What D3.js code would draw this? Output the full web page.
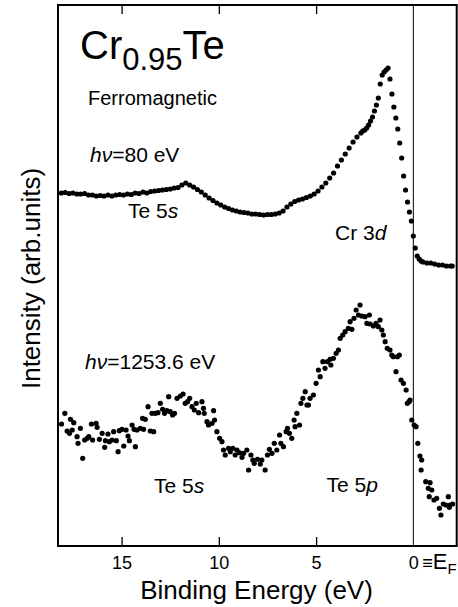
<!DOCTYPE html>
<html>
<head>
<meta charset="utf-8">
<script src="https://cdn.jsdelivr.net/npm/d3@7"></script>
<style>
  html, body { margin: 0; padding: 0; background: #fff; }
  svg { display: block; font-family: "Liberation Sans", Arial, Helvetica, sans-serif; }
</style>
</head>
<body>
<svg id="chart" width="458" height="607"></svg>
<script>
// ---- data (binding energy in eV, intensity in arbitrary units) ----
const xTicks = [15, 10, 5, 0];
const xTickLabels = ["15", "10", "5", "0"];

// hv = 80 eV spectrum
const spectrum80eV = [
  [18.1,35.3],[17.9,35.35],[17.7,35.25],[17.5,35.3],[17.3,35.2],[17.1,35.2],[16.9,35.25],[16.7,35.1],
  [16.5,35.1],[16.3,35.0],[16.1,35.05],[15.9,35.0],[15.7,35.1],[15.5,35.0],[15.3,35.1],[15.1,35.15],
  [14.9,35.1],[14.7,35.2],[14.5,35.15],[14.3,35.3],[14.1,35.25],[13.9,35.4],[13.7,35.3],[13.5,35.45],
  [13.3,35.5],[13.1,35.55],[12.9,35.6],[12.7,35.65],[12.5,35.7],[12.3,35.8],[12.1,35.85],[11.9,36.1],
  [11.7,36.3],[11.5,36.1],[11.3,35.9],[11.1,35.65],[10.9,35.4],[10.7,35.1],[10.5,34.8],[10.3,34.55],
  [10.1,34.3],[9.9,34.1],[9.7,33.9],[9.5,33.75],[9.3,33.6],[9.1,33.5],[8.9,33.4],[8.7,33.35],
  [8.5,33.3],[8.3,33.2],[8.1,33.2],[7.9,33.15],[7.7,33.1],[7.5,33.15],[7.3,33.15],[7.1,33.2],
  [6.9,33.3],[6.7,33.5],[6.5,33.9],[6.3,34.2],[6.1,34.45],[5.9,34.6],[5.7,34.7],[5.5,34.85],
  [5.3,35.0],[5.1,35.2],[4.9,35.5],[4.7,35.9],[4.5,36.3],[4.3,36.8],[4.1,37.3],[3.9,38.0],
  [3.7,38.6],[3.5,39.2],[3.3,39.8],[3.1,40.4],[2.9,40.9],[2.7,41.3],[2.6,41.5],[2.5,41.6],
  [2.4,41.8],[2.3,42.1],[2.2,42.5],[2.1,42.9],[2.0,43.5],[1.9,44.1],[1.8,44.8],[1.7,46.2],
  [1.6,47.1],[1.5,47.4],[1.4,47.6],[1.3,47.8],[1.2,46.7],[1.1,45.2],[1.0,43.9],[0.9,42.8],
  [0.8,41.7],[0.7,40.3],[0.6,38.8],[0.5,37.0],[0.4,35.6],[0.3,34.4],[0.2,33.4],[0.1,32.5],
  [0.0,31.0],[-0.1,29.8],[-0.2,29.0],[-0.3,28.7],[-0.4,28.5],[-0.5,28.4],[-0.7,28.3],[-0.9,28.3],
  [-1.1,28.2],[-1.3,28.1],[-1.5,28.1],[-1.7,28.0],[-1.9,28.0],[-2.0,28.0]
];

// hv = 1253.6 eV spectrum
const spectrum1253eV = [
  [18.09,12.2],[17.92,13.27],[17.80,11.5],[17.68,11.27],[17.63,12.67],[17.54,11.6],[17.46,12.33],[17.29,10.93],
  [17.24,10.27],[17.12,11.77],[17.00,8.77],[16.90,10.6],[16.77,10.77],[16.69,10.93],[16.55,12.2],[16.49,10.6],
  [16.31,12.27],[16.26,11.87],[16.14,10.67],[16.00,11.27],[15.87,9.87],[15.83,10.53],[15.70,11.2],[15.63,10.43],
  [15.49,10.6],[15.41,11.43],[15.27,10.53],[15.18,9.43],[15.12,11.53],[14.98,11.67],[14.89,10.0],[14.77,11.6],
  [14.67,11.0],[14.60,10.53],[14.46,12.1],[14.36,11.67],[14.29,9.93],[14.21,11.6],[14.04,11.77],[13.92,12.77],
  [13.87,11.67],[13.78,12.67],[13.64,13.93],[13.52,11.5],[13.44,13.27],[13.35,11.43],[13.27,13.27],[13.13,13.33],
  [13.01,14.27],[12.89,13.67],[12.79,13.27],[12.67,13.53],[12.58,14.93],[12.50,13.43],[12.38,13.1],[12.28,13.27],
  [12.15,14.77],[11.98,15.0],[11.84,15.2],[11.73,14.27],[11.61,14.43],[11.50,14.77],[11.38,13.93],[11.26,13.6],
  [11.16,14.27],[11.04,13.33],[10.87,14.43],[10.79,13.77],[10.75,13.27],[10.61,12.43],[10.53,12.1],[10.35,12.27],
  [10.27,13.53],[10.22,12.6],[10.10,11.43],[9.96,10.77],[9.84,10.43],[9.76,9.6],[9.67,9.1],[9.50,9.77],
  [9.41,9.43],[9.28,9.77],[9.16,9.1],[9.07,9.6],[8.94,9.33],[8.81,8.87],[8.73,9.27],[8.56,9.6],
  [8.47,7.6],[8.35,9.1],[8.25,8.6],[8.18,8.27],[8.01,8.67],[7.87,8.2],[7.79,8.6],[7.62,7.6],
  [7.50,9.1],[7.40,9.67],[7.27,9.27],[7.15,10.27],[7.02,9.6],[6.88,11.1],[6.81,10.27],[6.68,9.93],
  [6.54,11.43],[6.47,11.77],[6.37,11.27],[6.25,10.77],[6.13,12.6],[6.08,11.93],[5.99,13.27],[5.85,12.1],
  [5.78,14.27],[5.68,14.77],[5.56,15.43],[5.47,14.1],[5.39,14.1],[5.31,14.77],[5.14,15.1],[5.00,16.27],
  [4.88,17.6],[4.79,16.93],[4.65,18.43],[4.54,17.77],[4.42,18.43],[4.28,18.67],[4.24,18.1],[4.11,18.77],
  [3.97,19.27],[3.85,19.6],[3.76,20.77],[3.63,21.1],[3.51,21.43],[3.34,21.77],[3.25,22.43],[3.16,21.67],
  [3.05,22.77],[2.94,23.6],[2.82,23.1],[2.74,24.1],[2.65,23.0],[2.48,22.93],[2.39,22.27],[2.26,23.1],
  [2.22,22.2],[2.05,22.0],[1.92,22.27],[1.80,21.93],[1.71,22.6],[1.62,21.6],[1.54,21.1],[1.45,20.43],
  [1.34,19.77],[1.20,19.6],[1.11,19.1],[1.03,18.93],[0.89,17.43],[0.82,18.93],[0.72,19.1],[0.63,16.6],
  [0.51,16.27],[0.37,15.6],[0.31,14.27],[0.22,14.43],[0.17,14.6],[0.08,12.6],[-0.04,12.1],[-0.14,11.93],
  [-0.23,10.27],[-0.34,9.0],[-0.43,8.6],[-0.40,7.6],[-0.64,6.43],[-0.77,5.77],[-0.86,6.33],[-0.95,5.6],
  [-0.82,4.93],[-1.06,4.6],[-1.20,4.77],[-1.34,3.77],[-1.42,3.1],[-1.54,4.2],[-1.68,4.1],[-1.80,4.93],
  [-1.88,4.1],[-2.02,4.2],[-1.85,3.87]
];

// ---- layout ----
const plot = { left: 58, right: 456.7, top: 5, bottom: 546 };
const FONT = '"Liberation Sans", Arial, Helvetica, sans-serif';

const svg = d3.select("#chart");

const x = d3.scaleLinear().domain([18.27, -2.23]).range([plot.left, plot.right]);
const y = d3.scaleLinear().domain([0, 54]).range([plot.bottom, plot.top + 1]);

svg.append("defs").append("clipPath").attr("id", "clip")
  .append("rect").attr("x", plot.left).attr("y", plot.top)
  .attr("width", plot.right - plot.left).attr("height", plot.bottom - plot.top);

// Fermi level line
svg.append("line")
  .attr("x1", x(0)).attr("x2", x(0))
  .attr("y1", plot.top).attr("y2", plot.bottom)
  .attr("stroke", "#000").attr("stroke-width", 1);

// data points
const gData = svg.append("g").attr("clip-path", "url(#clip)");
[[spectrum80eV, 2.6], [spectrum1253eV, 2.6]].forEach(([series, r]) => {
  gData.append("g").selectAll("circle").data(series).join("circle")
    .attr("cx", d => x(d[0]))
    .attr("cy", d => y(d[1]))
    .attr("r", r)
    .attr("fill", "#000");
});

// axes (ticks pointing inward)
const bottomAxis = d3.axisBottom(x)
  .tickValues(xTicks)
  .tickFormat((d, i) => xTickLabels[i])
  .tickSizeInner(-9).tickSizeOuter(0).tickPadding(10);
const gb = svg.append("g").attr("transform", `translate(0,${plot.bottom})`).call(bottomAxis);
gb.select(".domain").remove();
gb.selectAll(".tick line").attr("stroke", "#000").attr("stroke-width", 1.3)
  .attr("display", d => d === 0 ? "none" : null);
gb.selectAll(".tick text").attr("font-size", 18).attr("font-family", FONT).attr("fill", "#000");

const topAxis = d3.axisTop(x)
  .tickValues(xTicks.filter(d => d !== 0))
  .tickFormat("")
  .tickSizeInner(-9).tickSizeOuter(0);
const gt = svg.append("g").attr("transform", `translate(0,${plot.top})`).call(topAxis);
gt.select(".domain").remove();
gt.selectAll(".tick line").attr("stroke", "#000").attr("stroke-width", 1.3);

// frame
svg.append("rect")
  .attr("x", plot.left).attr("y", plot.top)
  .attr("width", plot.right - plot.left).attr("height", plot.bottom - plot.top)
  .attr("fill", "none").attr("stroke", "#000").attr("stroke-width", 2);

// "≡E_F" next to the 0 tick label
const ef = svg.append("text")
  .attr("x", x(0) + 9).attr("y", 569)
  .attr("font-family", FONT).attr("fill", "#000");
ef.append("tspan").attr("font-size", 18).text("≡");
ef.append("tspan").attr("font-size", 22).text("E");
ef.append("tspan").attr("font-size", 15).attr("dy", 5).text("F");

// axis titles
svg.append("text")
  .attr("x", 256.5).attr("y", 599)
  .attr("text-anchor", "middle")
  .attr("font-size", 26).attr("font-family", FONT).attr("fill", "#000")
  .text("Binding Energy (eV)");

svg.append("text")
  .attr("transform", "translate(40,278.5) rotate(-90)")
  .attr("text-anchor", "middle")
  .attr("font-size", 26).attr("font-family", FONT).attr("fill", "#000")
  .text("Intensity (arb.units)");

// title
const title = svg.append("text").attr("x", 80).attr("y", 58.5)
  .attr("font-family", FONT).attr("fill", "#000");
title.append("tspan").attr("font-size", 40).text("Cr");
title.append("tspan").attr("font-size", 31).attr("dy", 11).text("0.95");
title.append("tspan").attr("font-size", 40).attr("dy", -11).text("Te");

// annotations
function label(xp, yp, size, parts) {
  const t = svg.append("text").attr("x", xp).attr("y", yp)
    .attr("font-family", FONT).attr("font-size", size).attr("fill", "#000");
  parts.forEach(p => {
    const s = t.append("tspan").text(p[0]);
    if (p[1]) s.attr("font-style", "italic");
  });
  return t;
}
label(88, 105, 20, [["Ferromagnetic"]]);
label(90, 161.5, 21, [["hν", true], ["=80 eV"]]);
label(128, 218, 21, [["Te 5"], ["s", true]]);
label(335, 240, 21, [["Cr 3"], ["d", true]]);
label(85, 368.5, 21, [["hν", true], ["=1253.6 eV"]]);
label(154, 492.5, 21, [["Te 5"], ["s", true]]);
label(326.5, 492, 21, [["Te 5"], ["p", true]]);
</script>
</body>
</html>
